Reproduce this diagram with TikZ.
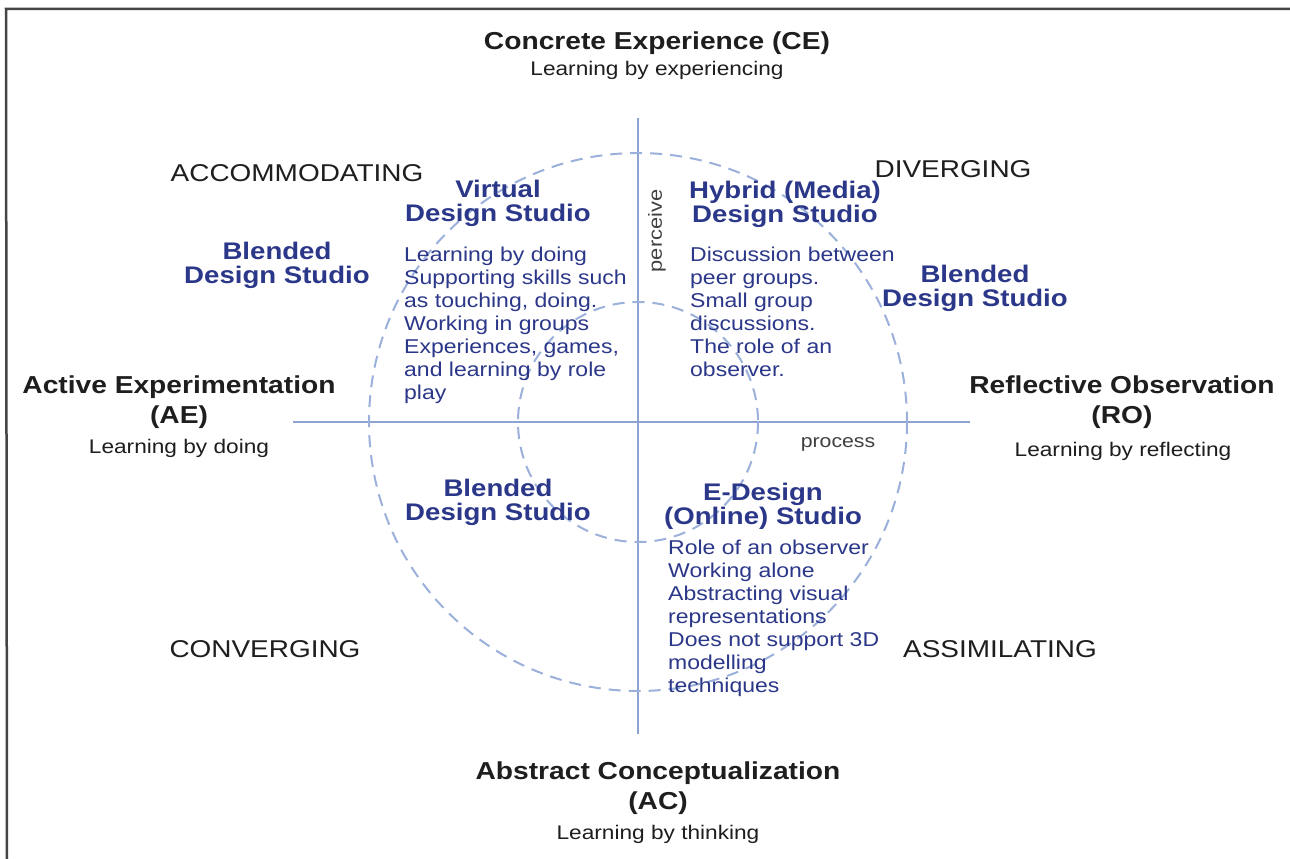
\documentclass[tikz,border=0pt]{standalone}
\usepackage{fontspec}
\setmainfont{Liberation Sans}[FakeStretch=1.15]
\newfontfamily\plainsans{Liberation Sans}
\definecolor{ink}{HTML}{1E1E1E}
\definecolor{navy}{HTML}{2B3788}
\definecolor{axisblue}{HTML}{8CA3D4}
\definecolor{ringblue}{HTML}{9BB0DB}
\definecolor{framec}{HTML}{454545}
\begin{document}
\begin{tikzpicture}[x=1pt,y=-1pt,
  axistitle/.style={font=\fontsize{24.5}{30}\selectfont\bfseries, text=ink, align=center, inner sep=0},
  axissub/.style={font=\fontsize{19.7}{23}\selectfont, text=ink, inner sep=0, anchor=base},
  quadlbl/.style={font=\fontsize{24.3}{28}\selectfont, text=ink, inner sep=0, anchor=base},
  studio/.style={font=\fontsize{24}{24}\selectfont\bfseries, text=navy, align=center, inner sep=0, anchor=north},
  studiobody/.style={font=\fontsize{20}{23}\selectfont, text=navy, align=left, inner sep=0, anchor=north west},
  smalllbl/.style={text=ink!85, inner sep=0},
  axisline/.style={draw=axisblue, line width=1.5pt},
  ring/.style={draw=ringblue, line width=2pt, dash pattern=on 12pt off 8pt},
  framebar/.style={draw=framec, line width=2.5pt}
]
\useasboundingbox (0,0) rectangle (1290,859);
\fill[white] (0,0) rectangle (1290,859);

% frame
\coordinate (f1) at (6,9);
\coordinate (f2) at (1290,9);
\coordinate (f3) at (7,859);
\draw[framebar] (f2) -- (f1) -- (f3);

% axes
\coordinate (O) at (638,422);
\coordinate (vt) at (638,118);
\coordinate (vb) at (638,734);
\coordinate (hl) at (293,422);
\coordinate (hr) at (970,422);
\draw[axisline] (vt) -- (vb);
\draw[axisline] (hl) -- (hr);

% rings
\draw[ring] (O) circle[radius=269];
\draw[ring] (O) circle[radius=120];

% axis titles
\node[axistitle, anchor=base] (ce) at (657,49) {Concrete Experience (CE)};
\node[axissub] (cesub) at (657,76) {Learning by experiencing};

\node[axistitle, anchor=north] (ae) at (179,375.4) {Active Experimentation\\(AE)};
\node[axissub] (aesub) at (179,453) {Learning by doing};

\node[axistitle, anchor=north] (ro) at (1122,375.4) {Reflective Observation\\(RO)};
\node[axissub] (rosub) at (1123,456) {Learning by reflecting};

\node[axistitle, anchor=north] (ac) at (658,761.4) {Abstract Conceptualization\\(AC)};
\node[axissub] (acsub) at (658,839) {Learning by thinking};

% quadrant labels
\node[quadlbl] (accom) at (297,181) {ACCOMMODATING};
\node[quadlbl] (diver) at (953,177) {DIVERGING};
\node[quadlbl] (conver) at (265,657) {CONVERGING};
\node[quadlbl] (assim) at (1000,657) {ASSIMILATING};

% small axis labels
\node[smalllbl, font=\fontsize{18.5}{20}\selectfont, anchor=base] (process) at (838,447) {process};
\node[smalllbl, font=\fontsize{19}{20}\selectfont, rotate=90] (perceive) at (657,231) {perceive};

% studios
\node[studio] (virtual) at (498,179.7) {Virtual\\Design Studio};
\node[studiobody] (virtualtxt) at (404,246.6) {Learning by doing\\Supporting skills such\\as touching, doing.\\Working in groups\\Experiences, games,\\and learning by role\\play};

\node[studio] (blendl) at (277,241.7) {Blended\\Design Studio};

\node[studio] (hybrid) at (785,180.7) {Hybrid (Media)\\Design Studio};
\node[studiobody] (hybridtxt) at (690,246.6) {Discussion between\\peer groups.\\Small group\\discussions.\\The role of an\\observer.};

\node[studio] (blendr) at (975,264.7) {Blended\\Design Studio};

\node[studio] (blendbl) at (498,478.7) {Blended\\Design Studio};

\node[studio] (edesign) at (763,482.7) {E-Design\\(Online) Studio};
\node[studiobody] (edesigntxt) at (668,539.6) {Role of an observer\\Working alone\\Abstracting visual\\representations\\Does not support 3D\\modelling\\techniques};
\end{tikzpicture}
\end{document}
